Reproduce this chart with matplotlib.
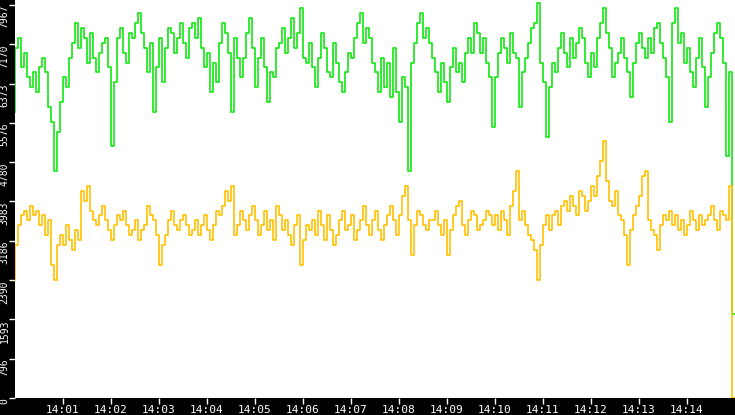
import matplotlib
matplotlib.use("Agg")
import matplotlib.pyplot as plt
import numpy as np

green = [5800,7100,7300,6700,7000,6500,6300,6600,6200,6700,6900,6600,5900,5600,4600,5400,6000,6500,6300,6900,
 7200,7600,7100,7500,7300,6800,7400,6900,6600,7000,7200,7300,6700,5100,6400,7300,7500,7000,6800,7400,
 7300,7600,7800,7400,7100,6600,7200,5800,6700,7300,6400,7100,7500,7400,7000,7300,7600,7200,6900,7500,
 7600,7300,7700,7100,6700,7000,6200,6800,6400,7200,7600,7400,7000,5800,7300,6900,6500,6900,7400,7700,
 7100,6300,6900,7300,6700,6000,6600,6500,7100,7200,7500,7000,7300,7700,7100,7400,7900,6900,6800,7200,
 6700,6300,6900,7400,7100,6600,6500,7200,6800,6400,6200,6600,7000,6900,7300,7600,7800,7200,7500,7300,
 6800,6600,6200,6900,6300,6800,6100,7100,6200,5600,6500,6300,4600,6800,7200,7600,7800,7300,7500,7200,
 6900,6600,6200,6800,6400,6000,6700,7100,6600,6800,6400,7000,7300,7000,7600,7400,7000,7300,6800,6500,
 5500,6500,7000,7300,7100,6800,7400,7000,6900,5900,6600,6900,7200,7500,7600,8000,6800,6400,5300,6300,
 6800,6600,7100,7400,7000,6700,7300,6900,7200,7500,7300,6800,6500,7000,6700,7300,7600,7900,7400,7100,
 6500,6800,7000,7300,6900,6600,6100,6800,7200,7400,7100,6900,7300,7000,7500,7600,7200,6900,6500,5600,
 7600,7900,7200,7400,6800,7100,6600,6300,6900,7300,6700,5900,6500,7000,7400,7600,7300,6800,4900,6600,
 1700]

orange = [2400,3100,3500,3700,3800,3600,3900,3700,3800,3500,3700,3300,3600,2700,2400,3100,3300,3100,3500,3200,
 3000,3400,3200,4200,4000,4300,3800,3600,3500,3700,3900,3600,3400,3200,3500,3700,3600,3800,3500,3300,
 3400,3600,3200,3400,3500,3900,3700,3600,3300,2700,3100,3300,3600,3800,3500,3400,3600,3700,3500,3300,
 3400,3600,3300,3500,3700,3400,3200,3500,3800,3700,3900,4200,4000,4300,3300,3500,3800,3600,3400,3700,
 3900,3600,3300,3500,3800,3400,3600,3200,3900,3700,3400,3600,3300,3100,3500,3700,2700,3200,3500,3400,
 3600,3300,3800,3500,3200,3700,3400,3100,3300,3600,3800,3400,3500,3700,3200,3400,3600,3900,3500,3300,
 3600,3800,3400,3200,3500,3700,3900,3600,3300,3700,4100,4300,3600,2900,3500,3800,3700,3500,3400,3600,
 3600,3800,3500,3300,3600,2900,3400,3700,3900,4000,3500,3300,3600,3800,3700,3400,3500,3600,3800,3700,
 3500,3700,3400,3800,3600,3300,3900,4200,4600,3600,3800,3500,3300,3200,3000,2400,3100,3500,3700,3400,
 3700,3800,3500,3900,4000,3800,4100,3900,3700,4200,4100,3800,4000,4300,4100,4500,4800,5200,4400,4000,
 3900,4200,3700,3600,3300,2700,3400,3700,3900,4100,4500,4600,3600,3400,3300,3000,3500,3700,3600,3800,
 3500,3700,3400,3600,3300,3500,3800,3600,3400,3700,3500,3600,3700,3900,3600,3400,3800,3700,3600,4300,
 0]

yticks = [0, 796, 1593, 2390, 3186, 3983, 4780, 5576, 6373, 7170, 7967]
xtick_labels = ["14:%02d" % m for m in range(1, 15)]

t = np.linspace(0, 15, len(green))

fig = plt.figure(figsize=(7.35, 4.15), dpi=100, facecolor="black")
ax = fig.add_axes([15/735, 17/415, 720/735, 398/415], facecolor="white")
ax.plot(t, green, color="#10e810", lw=1.2, drawstyle="steps-pre")
ax.plot(t, orange, color="#ffc000", lw=1.2, drawstyle="steps-pre")
ax.set_xlim(0, 15)
ax.set_ylim(0, 8067)
ax.set_yticks(yticks)
ax.set_yticklabels([str(v) for v in yticks], rotation=90, va="top", color="white", fontsize=7,
                   family="DejaVu Sans Mono")
ax.set_xticks(range(1, 15))
ax.set_xticklabels(xtick_labels, color="white", fontsize=8, family="DejaVu Sans Mono")
ax.tick_params(axis="y", colors="white", length=4, width=1, pad=0)
ax.tick_params(axis="x", colors="white", length=4, width=1, pad=1)
for s in ax.spines.values():
    s.set_visible(False)
fig.savefig("out.png", dpi=100, facecolor="black")
